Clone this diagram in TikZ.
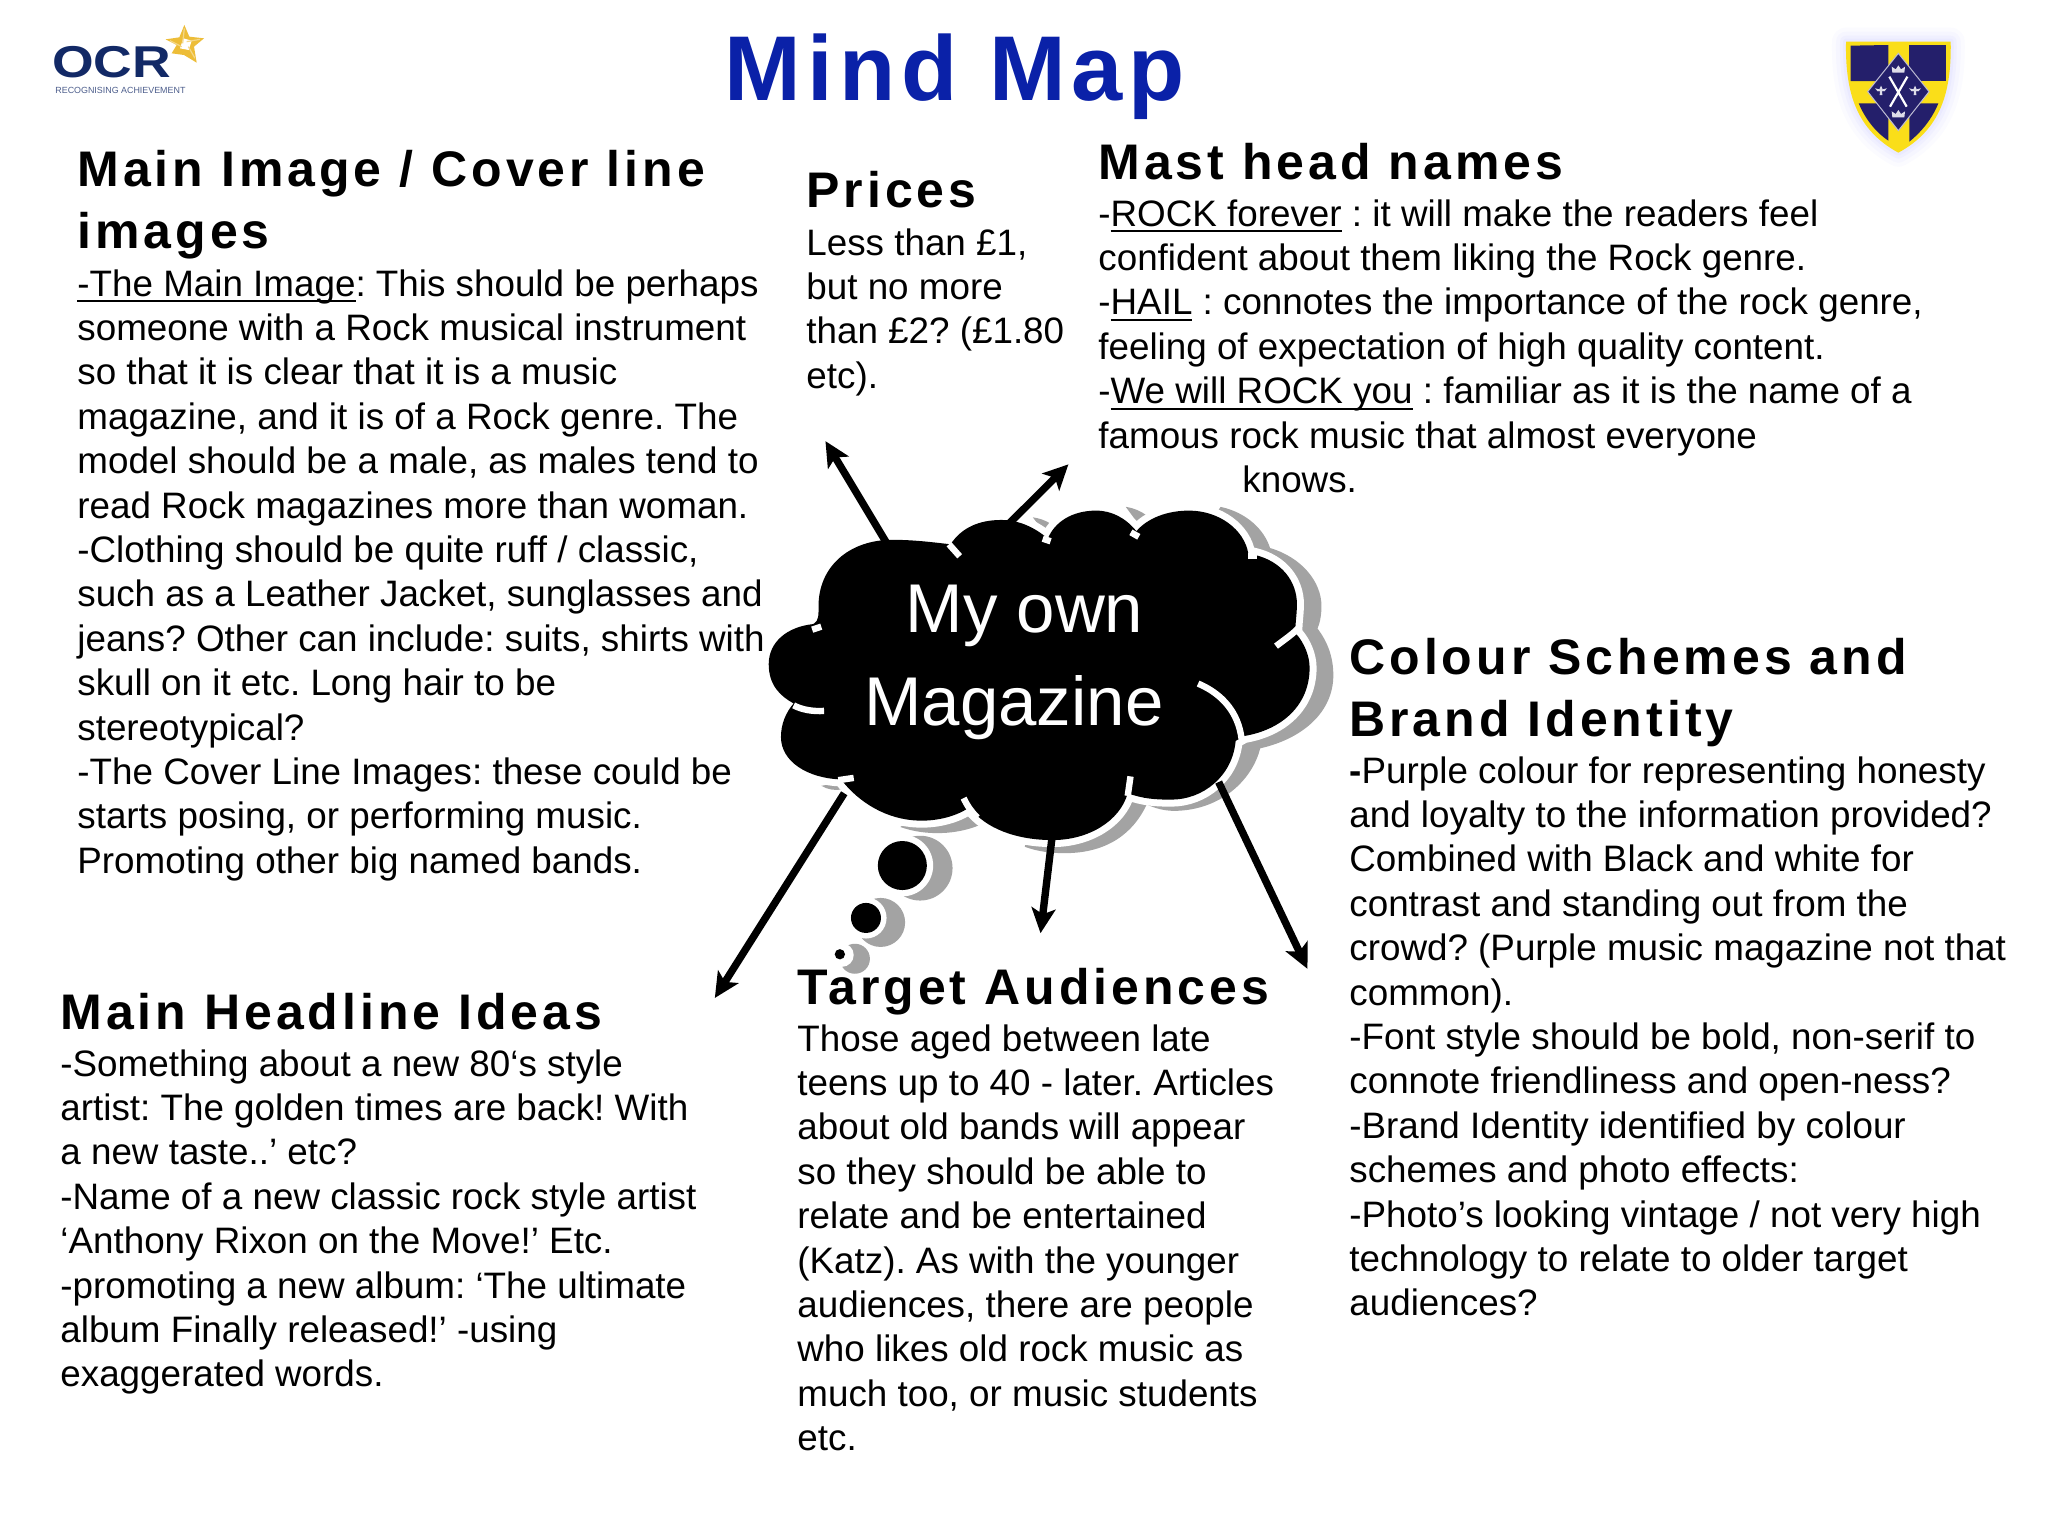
\documentclass[tikz,border=0pt]{standalone}
\usepackage{fontspec}
\setmainfont{Liberation Sans}
\newfontfamily\headf[LetterSpace=8]{Liberation Sans}
\newfontfamily\titlef[LetterSpace=6.5]{Liberation Sans}
\usetikzlibrary{arrows.meta}
\definecolor{titleblue}{rgb}{0.04,0.13,0.66}
\definecolor{ocrnavy}{rgb}{0.07,0.16,0.40}
\definecolor{ocrgold}{rgb}{0.93,0.74,0.22}
\definecolor{shnavy}{rgb}{0.14,0.12,0.42}
\definecolor{shyellow}{rgb}{0.98,0.87,0.10}
\definecolor{shadowgray}{gray}{0.64}
\newcommand{\ulword}[1]{\leavevmode\setbox0\hbox{#1}\rlap{\rule[-3pt]{\wd0}{0.9pt}}\box0\relax}
\newcommand{\cloudoutline}{(135,553) .. controls (70,560) and (22,600) .. (22,660) .. controls (22,715) and (50,745) .. (85,765)
  .. controls (65,790) and (53,820) .. (53,855) .. controls (53,920) and (120,965) .. (205,968)
  .. controls (250,1030) and (320,1075) .. (400,1078) .. controls (450,1080) and (500,1065) .. (530,1042)
  .. controls (570,1100) and (650,1130) .. (740,1130) .. controls (830,1130) and (910,1080) .. (930,1005)
  .. controls (970,1020) and (1000,1022) .. (1040,1022) .. controls (1120,1022) and (1195,960) .. (1203,865)
  -- (1225,852) .. controls (1320,835) and (1390,770) .. (1390,670) .. controls (1390,640) and (1378,605) .. (1355,578)
  .. controls (1352,560) and (1358,530) .. (1358,500) .. controls (1358,440) and (1320,385) .. (1250,368)
  -- (1235,365) .. controls (1225,300) and (1160,250) .. (1085,250) .. controls (1030,250) and (980,270) .. (952,305)
  .. controls (925,270) and (890,250) .. (850,250) .. controls (790,250) and (745,280) .. (728,325)
  .. controls (695,295) and (655,275) .. (610,275) .. controls (555,275) and (510,295) .. (482,340)
  .. controls (440,335) and (390,328) .. (335,328) .. controls (225,328) and (148,400) .. (148,505)
  .. controls (148,525) and (150,545) .. (135,553) -- cycle}
\tikzset{
  bodytext/.style={anchor=north west,inner sep=0pt,align=left,font=\fontsize{18.4}{22.2}\selectfont\frenchspacing},
  headtext/.style={anchor=north west,inner sep=0pt,align=left,font=\fontsize{25}{30.7}\selectfont\headf\bfseries},
  cloudword/.style={anchor=base,inner sep=0pt,text=white,font=\fontsize{34.5}{40}\selectfont},
  cloudshadow/.style={fill=shadowgray,draw=none},
  cloudband/.style={draw=white,line width=7pt,line join=round},
  cloudbody/.style={fill=black,draw=none},
  cloudcrease/.style={draw=white,line width=3.2pt},
  magarrow/.style={draw=black,line width=3.7pt,-{Stealth[length=12.5pt,width=12pt,inset=3pt,sep=2.5pt]}},
}
\begin{document}
\begin{tikzpicture}[x=0.5pt,y=-0.5pt]
\useasboundingbox (0,0) rectangle (2048,1536);
\fill[white] (0,0) rectangle (2048,1536);

% title
\node[anchor=base,inner sep=0pt,text=titleblue,font=\fontsize{46}{50}\selectfont\titlef\bfseries] (title) at (955,100) {Mind Map};

% OCR logo
\begin{scope}[shift={(0,0)},x=0.16667pt,y=-0.16667pt]
\node[anchor=base west,inner sep=0pt,text=ocrnavy,xscale=1.2,font=\fontsize{22.3}{24}\selectfont\bfseries] (ocr) at (155,232) {OCR};
\node[anchor=base west,inner sep=0pt,text=ocrnavy!75,font=\fontsize{4.45}{6}\selectfont] (ocrsub) at (165,280) {RECOGNISING ACHIEVEMENT};
\fill[ocrgold] (553,75) -- (568,110) -- (612,115) -- (582,140) -- (590,188) -- (552,165) -- (515,160) -- (530,135) -- (497,118) -- (538,112) -- cycle;
\fill[white] (550,115) -- (575,122) -- (566,150) -- (540,145) -- cycle;
\draw[ocrgold!60!white,line width=0.6pt] (553,85) -- (548,130) (600,118) -- (560,125) (585,175) -- (565,140) (510,122) -- (545,140);
\end{scope}

% school shield
\begin{scope}[shift={(1800,10)},x=0.16667pt,y=-0.16667pt]
\foreach \w/\o in {14/0.03,10/0.04,6/0.05,3/0.06}{
  \draw[blue!45!white,opacity=\o,line width=\w pt,line join=round] (138,95) -- (452,95) .. controls (455,250) and (420,360) .. (295,428) .. controls (170,360) and (135,250) .. (138,95) -- cycle;
}
\fill[shyellow] (138,95) -- (452,95) .. controls (455,250) and (420,360) .. (295,428) .. controls (170,360) and (135,250) .. (138,95) -- cycle;
\fill[shnavy] (152,107) -- (265,105) -- (265,213) -- (152,213) -- cycle;
\fill[shnavy] (328,105) -- (438,105) -- (438,213) -- (328,213) -- cycle;
\fill[shnavy] (176,280) -- (265,280) -- (265,392) .. controls (225,365) and (195,325) .. (176,280) -- cycle;
\fill[shnavy] (328,280) -- (415,280) .. controls (397,325) and (365,365) .. (328,395) -- cycle;
\fill[shnavy,draw=white!70!shnavy,line width=0.5pt] (295,130) -- (387,245) -- (295,362) -- (203,245) -- cycle;
\draw[white,line width=1.1pt] (268,200) -- (320,290) (322,200) -- (270,290);
\foreach \cx/\cy in {295/178,295/312}{
  \fill[white!85!shnavy] (\cx-18,\cy+10) -- (\cx-20,\cy-8) -- (\cx-8,\cy) -- (\cx,\cy-12) -- (\cx+8,\cy) -- (\cx+20,\cy-8) -- (\cx+18,\cy+10) -- cycle;
}
\foreach \cx/\cy in {243/241,345/241}{
  \fill[white!85!shnavy] (\cx,\cy-14) -- (\cx+5,\cy-3) -- (\cx+18,\cy-6) -- (\cx+10,\cy+3) -- (\cx+3,\cy+2) -- (\cx+4,\cy+14) -- (\cx-4,\cy+14) -- (\cx-3,\cy+2) -- (\cx-10,\cy+3) -- (\cx-18,\cy-6) -- (\cx-5,\cy-3) -- cycle;
}
\end{scope}

% cloud group
\begin{scope}[shift={(760,417)},x=0.1977pt,y=-0.1872pt]
\coordinate (fromprices) at (325,345);
\coordinate (toprices) at (159,53);
\coordinate (frommast) at (625,290);
\coordinate (tomast) at (789,117);
\coordinate (fromtarget) at (740,1110);
\coordinate (totarget) at (708,1392);
\coordinate (fromcolour) at (1160,975);
\coordinate (tocolour) at (1390,1486);
\coordinate (fromhead) at (213,1005);
\coordinate (tohead) at (-121,1563);

\path[cloudshadow] (1165,240) .. controls (1230,255) and (1275,300) .. (1290,350) .. controls (1370,375) and (1420,440) .. (1420,505) .. controls (1420,530) and (1416,550) .. (1410,565) .. controls (1435,600) and (1450,640) .. (1450,690) .. controls (1450,790) and (1370,860) .. (1265,885) .. controls (1245,970) and (1165,1050) .. (1050,1052) .. controls (1020,1052) and (1000,1045) .. (978,1035) .. controls (945,1110) and (880,1165) .. (770,1165) .. controls (735,1165) and (700,1160) .. (670,1148) -- (700,800) -- (1000,500) -- cycle;
\path[cloudshadow] (925,240) .. controls (945,243) and (965,252) .. (980,265) -- (960,290) -- cycle;
\path[cloudshadow] (690,268) .. controls (705,270) and (722,276) .. (735,285) -- (720,310) -- cycle;
\path[cloudshadow] (355,1095) .. controls (420,1120) and (500,1115) .. (555,1090) -- (530,1050) -- (400,1060) -- cycle;
\path[cloudshadow] (155,985) .. controls (170,995) and (190,998) .. (205,995) -- (215,975) -- cycle;

\path[cloudband] \cloudoutline;

\draw[magarrow] (fromprices) -- (toprices);
\draw[magarrow] (frommast) -- (tomast);
\draw[magarrow] (fromtarget) -- (totarget);
\draw[magarrow] (fromcolour) -- (tocolour);
\draw[magarrow] (fromhead) -- (tohead);

\path[cloudbody] \cloudoutline;

\draw[cloudcrease] (132,568) -- (155,560);
\draw[cloudcrease] (85,770) .. controls (105,782) and (135,787) .. (162,785);
\draw[cloudcrease] (198,970) -- (237,964);
\draw[cloudcrease] (478,340) -- (505,372);
\draw[cloudcrease] (715,325) -- (735,332);
\draw[cloudcrease] (938,308) -- (958,320);
\draw[cloudcrease] (1235,372) -- (1258,372);
\draw[cloudcrease] (1305,612) .. controls (1330,592) and (1350,578) .. (1365,560);
\draw[cloudcrease] (1108,712) .. controls (1170,740) and (1210,790) .. (1218,860);
\draw[cloudcrease] (515,1018) .. controls (525,1040) and (535,1055) .. (550,1070);
\draw[cloudcrease] (937,960) -- (930,1012);

\fill[shadowgray] (405,1205) circle[radius=16.2pt];
\fill[white] (360,1198) circle[radius=15.4pt];
\fill[black] (360,1198) circle[radius=12.26pt];
\fill[shadowgray] (305,1350) circle[radius=12.26pt];
\fill[white] (268,1338) circle[radius=10.3pt];
\fill[black] (268,1338) circle[radius=7.5pt];
\fill[shadowgray] (240,1447) circle[radius=7.5pt];
\fill[white] (207,1437) circle[radius=5.93pt];
\fill[black] (202,1435) circle[radius=2.57pt];

\node[cloudword] (myown) at (669,575) {My own};
\node[cloudword] (magazine) at (642,825) {Magazine};
\end{scope}

% Main image block
\node[headtext] (h1) at (77,150) {Main Image / Cover line\\images};
\node[bodytext] (b1) at (77,269) {\ulword{-The Main Image}: This should be perhaps\\
someone with a Rock musical instrument\\
so that it is clear that it is a music\\
magazine, and it is of a Rock genre. The\\
model should be a male, as males tend to\\
read Rock magazines more than woman.\\
-Clothing should be quite ruff / classic,\\
such as a Leather Jacket, sunglasses and\\
jeans? Other can include: suits, shirts with\\
skull on it etc. Long hair to be\\
stereotypical?\\
-The Cover Line Images: these could be\\
starts posing, or performing music.\\
Promoting other big named bands.};

% Prices block
\node[headtext] (h2) at (806,171) {Prices};
\node[bodytext] (b2) at (806,228) {Less than £1,\\
but no more\\
than £2? (£1.80\\
etc).};

% Mast head block
\node[headtext] (h3) at (1098,143) {Mast head names};
\node[bodytext] (b3) at (1098,199) {-\ulword{ROCK forever} : it will make the readers feel\\
confident about them liking the Rock genre.\\
-\ulword{HAIL} : connotes the importance of the rock genre,\\
feeling of expectation of high quality content.\\
-\ulword{We will ROCK you} : familiar as it is the name of a\\
famous rock music that almost everyone\\
\hspace*{72pt}knows.};

% Colour block
\node[headtext] (h4) at (1349,638) {Colour Schemes and\\Brand Identity};
\node[bodytext] (b4) at (1349,756) {\textbf{-}Purple colour for representing honesty\\
and loyalty to the information provided?\\
Combined with Black and white for\\
contrast and standing out from the\\
crowd? (Purple music magazine not that\\
common).\\
-Font style should be bold, non-serif to\\
connote friendliness and open-ness?\\
-Brand Identity identified by colour\\
schemes and photo effects:\\
-Photo’s looking vintage / not very high\\
technology to relate to older target\\
audiences?};

% Target block
\node[headtext] (h5) at (797,968) {Target Audiences};
\node[bodytext] (b5) at (797,1024) {Those aged between late\\
teens up to 40 - later. Articles\\
about old bands will appear\\
so they should be able to\\
relate and be entertained\\
(Katz). As with the younger\\
audiences, there are people\\
who likes old rock music as\\
much too, or music students\\
etc.};

% Headline block
\node[headtext] (h6) at (60,993) {Main Headline Ideas};
\node[bodytext] (b6) at (60,1049) {-Something about a new 80‘s style\\
artist: The golden times are back! With\\
a new taste..’ etc?\\
-Name of a new classic rock style artist\\
‘Anthony Rixon on the Move!’ Etc.\\
-promoting a new album: ‘The ultimate\\
album Finally released!’ -using\\
exaggerated words.};
\end{tikzpicture}
\end{document}
